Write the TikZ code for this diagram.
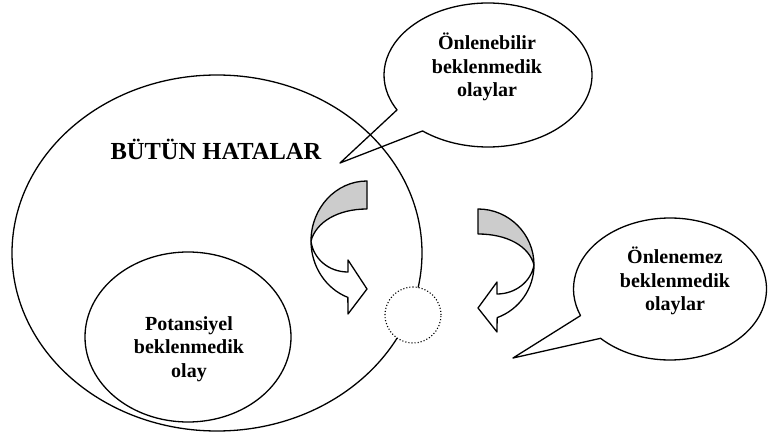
\documentclass[tikz,border=0pt]{standalone}
\usepackage{fontspec}
\setmainfont{Liberation Serif}
\usetikzlibrary{shapes.geometric}
\begin{document}
\begin{tikzpicture}[x=1pt,y=1pt,
  line/.style={line width=1.3pt, line join=round},
  lbl/.style={font=\fontsize{20}{23.5}\selectfont\bfseries, align=center, inner sep=0pt},
  title/.style={font=\fontsize{24.5}{28}\selectfont\bfseries, inner sep=0pt},
  ell/.style={ellipse, draw, line, inner sep=0pt},
  awhite/.style={line, fill=white},
  agray/.style={line, fill=gray!40},
]
\useasboundingbox (0,0) rectangle (768,434);
% big set
\node[ell, minimum width=410pt, minimum height=356pt] (all) at (217,181) {};
\node[title] (allt) at (216,285) {BÜTÜN HATALAR};
% potential
\node[ell, minimum width=206pt, minimum height=170pt] (pot) at (188,97) {};
\node[lbl] (pott) at (189,85) {Potansiyel\\beklenmedik\\olay};
% dotted circle
\node[circle, draw, fill=white, dotted, line width=1.1pt, minimum size=56pt, inner sep=0pt] (dot) at (413,119) {};
% callout 1
\coordinate (c1) at (488,359);
\coordinate (tip1) at (340,271);
\draw[line] (c1) ++(231:104pt and 72pt) arc[start angle=231, end angle=569, x radius=104pt, y radius=72pt] -- (tip1) -- cycle;
\node[lbl] (c1t) at (487,367) {Önlenebilir\\beklenmedik\\olaylar};
% callout 2
\coordinate (c2) at (670,145);
\coordinate (tip2) at (513,76);
\draw[line] (c2) ++(224:96.5pt and 71pt) arc[start angle=224, end angle=562, x radius=96.5pt, y radius=71pt] -- (tip2) -- cycle;
\node[lbl] (c2t) at (675,153) {Önlenemez\\beklenmedik\\olaylar};
% curved arrow 1
\draw[awhite] (311,193) arc[start angle=180, end angle=250, x radius=56pt, y radius=60pt]
  -- (348,120) -- (367,145) -- (348,174) -- (348,162)
  .. controls (328,162) and (313,176) .. (311,193) -- cycle;
\draw[agray] (367,253) arc[start angle=90, end angle=180, x radius=56pt, y radius=60pt]
  .. controls (316,212) and (338,225) .. (367,225) -- cycle;
% curved arrow 2
\draw[awhite] (534,169) arc[start angle=0, end angle=-70, x radius=56pt, y radius=56pt]
  -- (497,102) -- (478,126) -- (497,152) -- (497,140)
  .. controls (515,140) and (531,152) .. (534,169) -- cycle;
\draw[agray] (478,225) arc[start angle=90, end angle=0, x radius=56pt, y radius=56pt]
  .. controls (529,188) and (507,200) .. (478,200) -- cycle;
\end{tikzpicture}
\end{document}
